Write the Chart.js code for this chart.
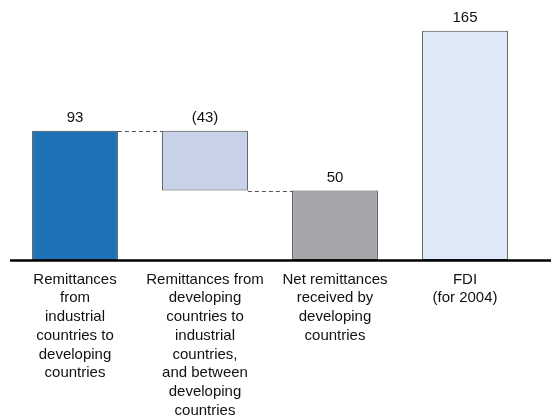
<!DOCTYPE html>
<html>
<head>
<meta charset="utf-8">
<script src="https://cdn.jsdelivr.net/npm/chart.js@4/dist/chart.umd.min.js"></script>
<style>
  html, body { margin: 0; padding: 0; background: #fff; }
  #wrap { width: 551px; height: 420px; position: relative; }
</style>
</head>
<body>
<div id="wrap"><canvas id="chart"></canvas></div>
<script>
// Waterfall data
const categories = [
  ['Remittances', 'from', 'industrial', 'countries to', 'developing', 'countries'],
  ['Remittances from', 'developing', 'countries to', 'industrial', 'countries,', 'and between', 'developing', 'countries'],
  ['Net remittances', 'received by', 'developing', 'countries'],
  ['FDI', '(for 2004)']
];
const barStarts = [0, 50, 0, 0];
const barEnds = [93, 93, 50, 165];
const valueLabels = ['93', '(43)', '50', '165'];
const barColors = ['#1f71b8', '#c7d2e9', '#a6a5aa', '#deeaf7'];
const connectors = [[0, 1, 93], [1, 2, 50]]; // from bar, to bar, level

const FONT = 'Arial, "Liberation Sans", sans-serif';

const extrasPlugin = {
  id: 'extras',
  afterDatasetsDraw(chart) {
    const ctx = chart.ctx;
    const meta = chart.getDatasetMeta(0);
    const y = chart.scales.y;
    const area = chart.chartArea;

    // dashed connectors between bars
    ctx.save();
    ctx.strokeStyle = '#555';
    ctx.lineWidth = 1;
    ctx.setLineDash([4, 3]);
    connectors.forEach(([a, b, level]) => {
      const ea = meta.data[a], eb = meta.data[b];
      const yy = Math.round(y.getPixelForValue(level)) + 0.5;
      ctx.beginPath();
      ctx.moveTo(ea.x + ea.width / 2, yy);
      ctx.lineTo(eb.x - eb.width / 2, yy);
      ctx.stroke();
    });
    ctx.restore();

    // value labels above bars
    ctx.save();
    ctx.fillStyle = '#111';
    ctx.font = '15px ' + FONT;
    ctx.textAlign = 'center';
    ctx.textBaseline = 'bottom';
    meta.data.forEach((el, i) => {
      const top = y.getPixelForValue(barEnds[i]);
      ctx.fillText(valueLabels[i], el.x, top - 5);
    });
    ctx.restore();

    // baseline
    ctx.save();
    ctx.strokeStyle = '#000';
    ctx.lineWidth = 2.5;
    const by = y.getPixelForValue(0) + 0.5;
    ctx.beginPath();
    ctx.moveTo(10, by);
    ctx.lineTo(chart.width, by);
    ctx.stroke();
    ctx.restore();
  }
};

new Chart(document.getElementById('chart'), {
  type: 'bar',
  data: {
    labels: categories,
    datasets: [{
      data: barStarts.map((s, i) => [s, barEnds[i]]),
      backgroundColor: barColors,
      borderColor: '#444',
      borderWidth: 1,
      borderSkipped: false,
      categoryPercentage: 1,
      barPercentage: 0.66
    }]
  },
  options: {
    responsive: true,
    maintainAspectRatio: false,
    animation: false,
    layout: { padding: { left: 10, right: 21, top: 10, bottom: 0 } },
    plugins: {
      legend: { display: false },
      tooltip: { enabled: false }
    },
    scales: {
      x: {
        grid: { display: false, drawTicks: false },
        border: { display: false },
        afterFit: (scale) => { scale.height = 160; },
        ticks: {
          color: '#111',
          padding: 10,
          maxRotation: 0,
          autoSkip: false,
          font: { family: FONT, size: 15, lineHeight: 1.25 }
        }
      },
      y: {
        display: false,
        min: 0,
        max: 180
      }
    }
  },
  plugins: [extrasPlugin]
});
</script>
</body>
</html>
